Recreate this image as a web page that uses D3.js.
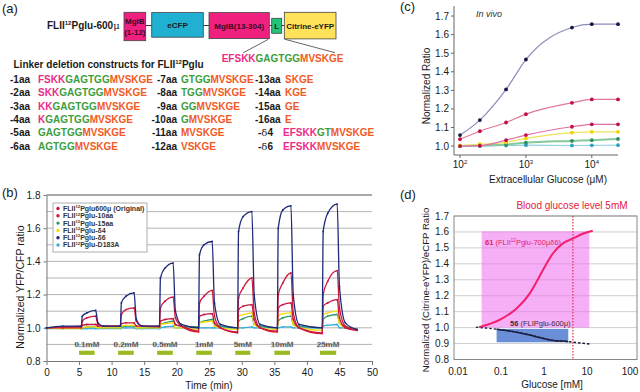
<!DOCTYPE html>
<html>
<head>
<meta charset="utf-8">
<script src="https://cdn.jsdelivr.net/npm/d3@7"></script>
<style>
body { margin: 0; background: #fff; }
svg { display: block; font-family: "Liberation Sans", Arial, Helvetica, sans-serif; }
</style>
</head>
<body>
<svg id="fig" width="640" height="392"></svg>
<script>
// ---- (a) linker deletion constructs ----
var domainNames = ["MglB|(1-12)", "eCFP", "MglB(13-304)", "L", "Citrine-eYFP"];
var domainColors = ["#f0207f", "#1fb0d2", "#f0207f", "#22c47a", "#ffe15a"];
var fullLinker = ["EFSKK", "GAGTGG", "MVSKGE"];
var constructLabels = ["-1aa", "-2aa", "-3aa", "-4aa", "-5aa", "-6aa",
    "-7aa", "-8aa", "-9aa", "-10aa", "-11aa", "-12aa",
    "-13aa", "-14aa", "-15aa", "-16aa", "-δ4", "-δ6"];
var constructSeqs = [
    ["FSKK", "GAGTGG", "MVSKGE"], ["SKK", "GAGTGG", "MVSKGE"], ["KK", "GAGTGG", "MVSKGE"],
    ["K", "GAGTGG", "MVSKGE"], ["", "GAGTGG", "MVSKGE"], ["", "AGTGG", "MVSKGE"],
    ["", "GTGG", "MVSKGE"], ["", "TGG", "MVSKGE"], ["", "GG", "MVSKGE"],
    ["", "G", "MVSKGE"], ["", "", "MVSKGE"], ["", "", "VSKGE"],
    ["", "", "SKGE"], ["", "", "KGE"], ["", "", "GE"],
    ["", "", "E"], ["EFSKK", "GT", "MVSKGE"], ["EFSKK", "", "MVSKGE"]];
var segColors = ["#ee2a88", "#3c9e3c", "#f25a24"];

// ---- (b) time course ----
var timeMin = [0, 2.5,
    5.35, 5.5, 6.2, 7.55, 7.9, 8.8,
    11.35, 11.5, 12.2, 13.45, 13.8, 14.7,
    17.35, 17.5, 18.2, 19.45, 19.8, 20.7,
    23.35, 23.5, 24.2, 25.45, 25.8, 26.7,
    29.35, 29.5, 30.2, 31.55, 31.9, 32.8,
    35.45, 35.6, 36.3, 37.55, 37.9, 38.8,
    42.35, 42.5, 43.2, 44.65, 45.0, 45.9,
    47.7];
var ratioOriginal = [1.00, 1.005,
    1.01, 1.015, 1.02, 1.02, 1.01, 1.01,
    1.01, 1.025, 1.03, 1.03, 1.01, 1.01,
    1.01, 1.04, 1.05, 1.055, 1.02, 1.01,
    0.98, 1.07, 1.08, 1.085, 1.03, 1.00,
    0.975, 1.11, 1.13, 1.14, 1.05, 1.00,
    0.98, 1.12, 1.14, 1.15, 1.05, 1.00,
    0.97, 1.13, 1.15, 1.17, 1.06, 1.00,
    0.985];
var ratio10aa = [1.00, 1.00,
    1.00, 1.04, 1.06, 1.07, 1.02, 1.01,
    1.01, 1.08, 1.11, 1.12, 1.04, 1.01,
    1.005, 1.12, 1.16, 1.185, 1.06, 1.01,
    0.975, 1.15, 1.19, 1.225, 1.07, 1.00,
    0.97, 1.18, 1.24, 1.30, 1.09, 1.00,
    0.975, 1.20, 1.27, 1.33, 1.09, 1.00,
    0.965, 1.20, 1.28, 1.345, 1.12, 1.01,
    0.985];
var ratio15aa = [1.00, 1.00,
    1.00, 1.00, 1.005, 1.005, 1.00, 1.00,
    1.00, 1.005, 1.01, 1.01, 1.00, 1.00,
    1.005, 1.02, 1.03, 1.04, 1.02, 1.01,
    1.005, 1.03, 1.04, 1.05, 1.02, 1.01,
    1.00, 1.04, 1.055, 1.07, 1.02, 1.01,
    1.00, 1.04, 1.06, 1.07, 1.02, 1.01,
    1.00, 1.05, 1.07, 1.08, 1.03, 1.01,
    0.99];
var ratioD4 = [1.00, 0.995,
    0.995, 1.00, 1.005, 1.005, 1.00, 1.00,
    1.00, 1.01, 1.015, 1.015, 1.00, 1.00,
    1.00, 1.02, 1.025, 1.03, 1.00, 1.00,
    0.99, 1.03, 1.035, 1.04, 1.01, 1.00,
    0.99, 1.07, 1.08, 1.09, 1.02, 1.00,
    0.99, 1.07, 1.085, 1.09, 1.02, 1.00,
    0.985, 1.08, 1.09, 1.10, 1.03, 1.00,
    0.99];
var ratioD6 = [1.00, 1.01,
    1.01, 1.07, 1.09, 1.105, 1.03, 1.01,
    1.01, 1.15, 1.19, 1.21, 1.05, 1.01,
    1.01, 1.30, 1.36, 1.39, 1.10, 1.02,
    1.00, 1.44, 1.50, 1.52, 1.15, 1.02,
    1.00, 1.58, 1.67, 1.70, 1.20, 1.02,
    1.00, 1.60, 1.71, 1.735, 1.20, 1.02,
    1.00, 1.58, 1.69, 1.745, 1.25, 1.03,
    0.99];
var ratioD183A = [0.995, 0.995,
    0.995, 0.995, 0.995, 0.995, 0.995, 0.995,
    0.995, 1.00, 1.00, 1.00, 0.995, 0.995,
    0.995, 1.00, 1.005, 1.01, 1.00, 1.00,
    1.00, 1.00, 1.00, 1.00, 1.00, 1.00,
    1.00, 1.00, 1.00, 1.005, 1.00, 1.00,
    1.00, 1.00, 1.005, 1.005, 1.00, 1.00,
    1.00, 1.01, 1.015, 1.02, 1.00, 1.00,
    0.99];
var seriesNames = ["Pglu600μ (Original)", "Pglu-10aa", "Pglu-15aa", "Pglu-δ4", "Pglu-δ6", "Pglu-D183A"];
var seriesColors = ["#c8143e", "#d0183c", "#2a9a68", "#f2dc10", "#1e2a78", "#38aedb"];
var pulseStart = [5, 11, 17, 23, 29, 35, 42];
var pulseEnd = [7.4, 13.4, 19.4, 25.4, 31.3, 37.4, 44.5];
var pulseLabels = ["0.1mM", "0.2mM", "0.5mM", "1mM", "5mM", "10mM", "25mM"];

// ---- (c) in vivo dose response ----
var glucoseUM = [100, 200, 500, 1000, 5000, 10000, 25000];
var vivoOriginal = [1.00, 1.002, 1.032, 1.059, 1.104, 1.117, 1.117];
var vivo10aa = [1.037, 1.08, 1.127, 1.172, 1.233, 1.251, 1.251];
var vivo15aa = [1.00, 1.003, 1.008, 1.018, 1.028, 1.032, 1.038];
var vivoD4 = [1.003, 1.01, 1.02, 1.041, 1.072, 1.077, 1.077];
var vivoD6 = [1.059, 1.14, 1.305, 1.466, 1.638, 1.656, 1.656];
var vivoD183A = [1.00, 1.00, 1.003, 1.005, 1.003, 1.004, 1.005];
var vivoLineColors = ["#e070a4", "#e27898", "#86c89a", "#eee25a", "#8c8cbc", "#94d2e4"];
var vivoDotColors = ["#c0104c", "#c41040", "#2a9060", "#f0d400", "#161848", "#30a0c4"];

// ---- (d) sensor comparison ----
var glucoseMM61 = [0.031, 0.095, 0.23, 0.47, 0.68, 1.05, 1.64, 2.8, 4.65, 8.2, 13.6];
var ratio61 = [1.003, 1.05, 1.12, 1.216, 1.29, 1.384, 1.468, 1.53, 1.558, 1.59, 1.608];
var glucoseMM56 = [0.026, 0.079, 0.232, 0.566, 1.37, 3.67, 11.6];
var ratio56 = [1.003, 0.99, 0.971, 0.948, 0.923, 0.912, 0.897];
var range61 = [0.0355, 11.3], span61 = [1.0, 1.604];
var range56 = [0.079, 3.67], span56 = [0.908, 0.992];
var bloodGlucose = 4.7;

var svg = d3.select("#fig");
var ink = "#1a1a1a";

// text with superscripts (^) and serif glyphs (~)
function rich(t, parts, size) {
    var shift = 0;
    parts.forEach(function(p) {
        var ts = t.append("tspan");
        if (p[0] === "^") {
            ts.text(p.slice(1)).attr("font-size", size * 0.6).attr("dy", -size * 0.38);
            shift = size * 0.38;
        } else {
            if (shift) { ts.attr("dy", shift); shift = 0; }
            if (p[0] === "~") ts.text(p.slice(1)).attr("font-family", "DejaVu Serif, serif").attr("font-weight", "normal");
            else ts.text(p);
        }
    });
}

function panelTag(x, y, s) {
    svg.append("text").attr("x", x).attr("y", y).attr("font-size", 13).attr("fill", ink).text(s);
}

// ================= (a) =================
panelTag(2, 13, "(a)");
rich(svg.append("text").attr("x", 47).attr("y", 29).attr("font-size", 10)
    .attr("font-weight", "bold").attr("fill", ink), ["FLII", "^12", "Pglu-600", "~μ"], 10);

var boxX = [124, 151.7, 209, 271.7, 284.3];
var boxW = [21.7, 51.6, 60.3, 10, 51.7];
var boxY = [12.3, 12.6, 12.6, 18.3, 12.3];
var boxH = [28.4, 24.6, 26, 15, 26.6];
svg.append("line").attr("x1", 145).attr("x2", 285).attr("y1", 25.5).attr("y2", 25.5)
    .attr("stroke", "#333").attr("stroke-width", 1);
var gBox = svg.selectAll(".dom").data(domainNames).enter().append("g");
gBox.append("rect")
    .attr("x", function(d, i) { return boxX[i]; })
    .attr("y", function(d, i) { return boxY[i]; })
    .attr("width", function(d, i) { return boxW[i]; })
    .attr("height", function(d, i) { return boxH[i]; })
    .attr("fill", function(d, i) { return domainColors[i]; })
    .attr("stroke", "#444").attr("stroke-width", 0.8);
gBox.each(function(d, i) {
    var lines = d.split("|");
    var cx = boxX[i] + boxW[i] / 2, cy = boxY[i] + boxH[i] / 2;
    var g = d3.select(this);
    lines.forEach(function(l, k) {
        g.append("text").attr("x", cx)
            .attr("y", cy + 3 + (k - (lines.length - 1) / 2) * 11)
            .attr("text-anchor", "middle").attr("font-size", 8).attr("font-weight", "bold")
            .attr("fill", i === 0 || i === 2 ? "#3a0a24" : "#1a1a1a").text(l);
    });
});
svg.append("line").attr("x1", 268.3).attr("y1", 39.3).attr("x2", 243.3).attr("y2", 52.7)
    .attr("stroke", "#555").attr("stroke-width", 0.9);
svg.append("line").attr("x1", 285).attr("y1", 39.3).attr("x2", 335).attr("y2", 52.7)
    .attr("stroke", "#555").attr("stroke-width", 0.9);

function seqText(x, y, segs) {
    var t = svg.append("text").attr("x", x).attr("y", y).attr("font-size", 10).attr("font-weight", "bold");
    segs.forEach(function(s, k) {
        if (s) t.append("tspan").attr("fill", segColors[k]).text(s);
    });
}
seqText(221.7, 62, fullLinker);

rich(svg.append("text").attr("x", 13.5).attr("y", 68).attr("font-size", 10)
    .attr("font-weight", "bold").attr("fill", ink),
    ["Linker deletion constructs for FLII", "^12", "Pglu"], 10);

var rowY = d3.scalePoint().domain(d3.range(6)).range([83, 149.5]);
var labX = [10, 177, 255], labAnchor = ["start", "end", "start"], seqX = [38, 181, 285];
constructLabels.forEach(function(lab, i) {
    var col = Math.floor(i / 6), row = i % 6;
    var delta = lab.indexOf("δ") >= 0;
    var t = svg.append("text").attr("x", labX[col] + (delta ? 3 : 0)).attr("y", rowY(row))
        .attr("text-anchor", labAnchor[col]).attr("font-size", 10).attr("font-weight", "bold").attr("fill", ink);
    if (delta) rich(t, ["-", "~δ", lab.slice(2)], 10);
    else t.text(lab);
    seqText(seqX[col] - (delta ? 2 : 0), rowY(row), constructSeqs[i]);
});

// ================= (b) =================
panelTag(2, 197, "(b)");
var xb = d3.scaleLinear().domain([0, 50]).range([46.5, 372]);
var yb = d3.scaleLinear().domain([0.8, 1.8]).range([361, 195]);
var gb = svg.append("g");
gb.selectAll(".gl").data(d3.range(9, 19).map(function(d) { return d / 10; })).enter()
    .append("line").attr("x1", xb(0)).attr("x2", xb(50))
    .attr("y1", function(d) { return yb(d); }).attr("y2", function(d) { return yb(d); })
    .attr("stroke", function(d) { return d > 1.75 ? "#555" : "#b4b4b4"; })
    .attr("stroke-width", function(d) { return d > 1.75 ? 1.2 : 1; });

var axB = gb.append("g").attr("transform", "translate(0," + yb(0.8) + ")")
    .call(d3.axisBottom(xb).tickValues(d3.range(0, 51, 5)).tickSize(4).tickSizeOuter(0));
var ayB = gb.append("g").attr("transform", "translate(" + xb(0) + ",0)")
    .call(d3.axisLeft(yb).tickValues([0.8, 1.0, 1.2, 1.4, 1.6, 1.8]).tickFormat(d3.format(".1f")).tickSize(3).tickSizeOuter(0));
[axB, ayB].forEach(function(a) {
    a.selectAll("path, line").attr("stroke", "#777");
    a.selectAll("text").attr("font-size", 10).attr("fill", ink).attr("font-family", null);
});
axB.selectAll("text").attr("y", 14.5).attr("dy", null);

svg.append("text").attr("x", 209).attr("y", 388.5).attr("text-anchor", "middle")
    .attr("font-size", 10).attr("fill", ink).text("Time (min)");
svg.append("text").attr("transform", "translate(24,287) rotate(-90)").attr("text-anchor", "middle")
    .attr("font-size", 10.5).attr("fill", ink).text("Normalized YFP/CFP ratio");

// glucose pulses
gb.selectAll(".pulse").data(pulseStart).enter().append("rect")
    .attr("x", function(d) { return xb(d); })
    .attr("width", function(d, i) { return xb(pulseEnd[i]) - xb(d); })
    .attr("y", yb(0.862)).attr("height", yb(0.837) - yb(0.862))
    .attr("fill", "#9cba22");
gb.selectAll(".plab").data(pulseLabels).enter().append("text")
    .attr("x", function(d, i) { return xb((pulseStart[i] + pulseEnd[i]) / 2); })
    .attr("y", yb(0.883)).attr("text-anchor", "middle")
    .attr("font-size", 8).attr("font-weight", "bold").attr("fill", "#222")
    .attr("stroke", "#bbb").attr("stroke-width", 0.3).text(function(d) { return d; });

var bSeries = [ratioD183A, ratio15aa, ratioD4, ratioOriginal, ratio10aa, ratioD6];
var bColor = [seriesColors[5], seriesColors[2], seriesColors[3], seriesColors[0], seriesColors[1], seriesColors[4]];
var lineB = d3.line().x(function(d, i) { return xb(timeMin[i]); }).y(function(d) { return yb(d); })
    .curve(d3.curveMonotoneX);
bSeries.forEach(function(vals, k) {
    gb.append("path").attr("d", lineB(vals)).attr("fill", "none")
        .attr("stroke", bColor[k]).attr("stroke-width", 1.3);
    gb.selectAll(null).data(vals).enter().append("circle")
        .attr("cx", function(d, i) { return xb(timeMin[i]); })
        .attr("cy", function(d) { return yb(d); })
        .attr("r", 0.9).attr("fill", bColor[k]);
});

// legend
var lg = gb.append("g");
lg.append("rect").attr("x", 53).attr("y", 203).attr("width", 94).attr("height", 49)
    .attr("fill", "#fff").attr("stroke", "#999").attr("stroke-width", 0.8);
seriesNames.forEach(function(n, i) {
    var yy = 208.5 + i * 7.3;
    lg.append("circle").attr("cx", 58).attr("cy", yy).attr("r", 1.7).attr("fill", seriesColors[i]);
    rich(lg.append("text").attr("x", 63).attr("y", yy + 2.4).attr("font-size", 7)
        .attr("font-weight", "bold").attr("fill", "#333"), ["FLII", "^12", n], 7);
});

// ================= (c) =================
panelTag(400, 11, "(c)");
var xc = d3.scaleLog().domain([81, 25000]).range([454, 618]);
var yc = d3.scaleLinear().domain([0.952, 1.754]).range([155, 6]);
var gc = svg.append("g");
gc.append("line").attr("x1", 454).attr("x2", 454).attr("y1", yc(1.754)).attr("y2", yc(0.952)).attr("stroke", "#666");
gc.append("line").attr("x1", 454).attr("x2", xc(25000)).attr("y1", yc(0.952)).attr("y2", yc(0.952)).attr("stroke", "#666");
var cTicks = d3.range(10, 18).map(function(d) { return d / 10; });
gc.selectAll(".ct").data(cTicks).enter().append("line")
    .attr("x1", 451).attr("x2", 454).attr("y1", function(d) { return yc(d); }).attr("y2", function(d) { return yc(d); })
    .attr("stroke", "#666");
gc.selectAll(".cl").data(cTicks).enter().append("text")
    .attr("x", 449).attr("y", function(d) { return yc(d) + 3.5; }).attr("text-anchor", "end")
    .attr("font-size", 10).attr("fill", ink).text(function(d) { return d.toFixed(1); });
[100, 1000, 10000].forEach(function(v) {
    gc.append("line").attr("x1", xc(v)).attr("x2", xc(v)).attr("y1", 155).attr("y2", 158).attr("stroke", "#666");
    rich(gc.append("text").attr("x", xc(v)).attr("y", 168).attr("text-anchor", "middle")
        .attr("font-size", 10).attr("fill", ink), ["10", "^" + Math.round(Math.log10(v))], 10);
});
svg.append("text").attr("x", 548).attr("y", 183).attr("text-anchor", "middle")
    .attr("font-size", 10).attr("fill", ink).text("Extracellular Glucose (μM)");
svg.append("text").attr("transform", "translate(430,86) rotate(-90)").attr("text-anchor", "middle")
    .attr("font-size", 10).attr("fill", ink).text("Normalized Ratio");
svg.append("text").attr("x", 476).attr("y", 17).attr("font-size", 9).attr("font-style", "italic")
    .attr("fill", "#333").text("In vivo");

var cSeries = [vivoD183A, vivo15aa, vivoD4, vivoOriginal, vivo10aa, vivoD6];
var cLine = [vivoLineColors[5], vivoLineColors[2], vivoLineColors[3], vivoLineColors[0], vivoLineColors[1], vivoLineColors[4]];
var cDot = [vivoDotColors[5], vivoDotColors[2], vivoDotColors[3], vivoDotColors[0], vivoDotColors[1], vivoDotColors[4]];
var lineC = d3.line().x(function(d, i) { return xc(glucoseUM[i]); }).y(function(d) { return yc(d); })
    .curve(d3.curveMonotoneX);
cSeries.forEach(function(vals, k) {
    gc.append("path").attr("d", lineC(vals)).attr("fill", "none")
        .attr("stroke", cLine[k]).attr("stroke-width", k === 1 ? 2 : 1.2);
    gc.selectAll(null).data(vals).enter().append("circle")
        .attr("cx", function(d, i) { return xc(glucoseUM[i]); })
        .attr("cy", function(d) { return yc(d); })
        .attr("r", 1.9).attr("fill", cDot[k]);
});

// ================= (d) =================
panelTag(400, 199, "(d)");
var xd = d3.scaleLog().domain([0.01, 100]).range([458, 630]);
var yd = d3.scaleLinear().domain([0.8, 1.7]).range([359.5, 216]);
var frameL = 454, frameR = 637;
var gd = svg.append("g");
var dTicks = d3.range(8, 18).map(function(d) { return d / 10; });
gd.selectAll(".dg").data(dTicks).enter().append("line")
    .attr("x1", frameL).attr("x2", frameR)
    .attr("y1", function(d) { return yd(d); }).attr("y2", function(d) { return yd(d); })
    .attr("stroke", "#cfcfcf");
gd.append("rect").attr("x", xd(range61[0])).attr("width", xd(range61[1]) - xd(range61[0]))
    .attr("y", yd(span61[1])).attr("height", yd(span61[0]) - yd(span61[1]))
    .attr("fill", "#ee6cee").attr("fill-opacity", 0.55);
gd.append("rect").attr("x", xd(range56[0])).attr("width", xd(range56[1]) - xd(range56[0]))
    .attr("y", yd(span56[1])).attr("height", yd(span56[0]) - yd(span56[1]))
    .attr("fill", "#6a8ed8");
gd.append("rect").attr("x", frameL).attr("y", yd(1.7)).attr("width", frameR - frameL)
    .attr("height", yd(0.8) - yd(1.7)).attr("fill", "none").attr("stroke", "#888");
gd.append("line").attr("x1", xd(bloodGlucose)).attr("x2", xd(bloodGlucose))
    .attr("y1", yd(1.7)).attr("y2", yd(0.8)).attr("stroke", "#e4304c")
    .attr("stroke-width", 1.2).attr("stroke-dasharray", "1.5,1.5");

var line56 = d3.line().x(function(d, i) { return xd(glucoseMM56[i]); }).y(function(d) { return yd(d); })
    .curve(d3.curveMonotoneX);
svg.append("clipPath").attr("id", "clip56").append("rect")
    .attr("x", xd(range56[0])).attr("width", xd(range56[1]) - xd(range56[0]))
    .attr("y", yd(1.1)).attr("height", yd(0.8) - yd(1.1));
gd.append("path").attr("d", line56(ratio56)).attr("fill", "none").attr("stroke", "#1c1c3c")
    .attr("stroke-width", 1.4).attr("stroke-dasharray", "2.5,2");
gd.append("path").attr("d", line56(ratio56)).attr("fill", "none").attr("stroke", "#1c1c3c")
    .attr("stroke-width", 1.5).attr("clip-path", "url(#clip56)");
var line61 = d3.line().x(function(d, i) { return xd(glucoseMM61[i]); }).y(function(d) { return yd(d); })
    .curve(d3.curveMonotoneX);
gd.append("path").attr("d", line61(ratio61)).attr("fill", "none").attr("stroke", "#f2206c")
    .attr("stroke-width", 2);

gd.selectAll(".dl").data(dTicks).enter().append("text")
    .attr("x", 449).attr("y", function(d) { return yd(d) + 3.5; }).attr("text-anchor", "end")
    .attr("font-size", 10).attr("fill", ink).text(function(d) { return d.toFixed(1); });
gd.selectAll(".dx").data([0.01, 0.1, 1, 10, 100]).enter().append("text")
    .attr("x", function(d) { return xd(d); }).attr("y", 375).attr("text-anchor", "middle")
    .attr("font-size", 10).attr("fill", ink).text(function(d) { return String(d); });
svg.append("text").attr("x", 552).attr("y", 388).attr("text-anchor", "middle")
    .attr("font-size", 10).attr("fill", ink).text("Glucose [mM]");
svg.append("text").attr("transform", "translate(429,290) rotate(-90)").attr("text-anchor", "middle")
    .attr("font-size", 9.6).attr("fill", ink).text("Normalized (Citrine-eYFP)/eCFP Ratio");
svg.append("text").attr("x", 572).attr("y", 209).attr("text-anchor", "middle")
    .attr("font-size", 10).attr("fill", "#e4203c").text("Blood glucose level 5mM");

var t61 = svg.append("text").attr("x", 485).attr("y", 244.5).attr("font-size", 7.5).attr("fill", "#e01e64");
t61.append("tspan").attr("font-weight", "bold").text("61 ");
rich(t61, ["(FLII", "^12", "Pglu-700μδ6)"], 7.5);
var t56 = svg.append("text").attr("x", 510).attr("y", 326).attr("font-size", 7.5).attr("fill", "#333");
t56.append("tspan").attr("font-weight", "bold").text("56 ");
t56.append("tspan").text("(FLIPglu-600μ)");
</script>
</body>
</html>
